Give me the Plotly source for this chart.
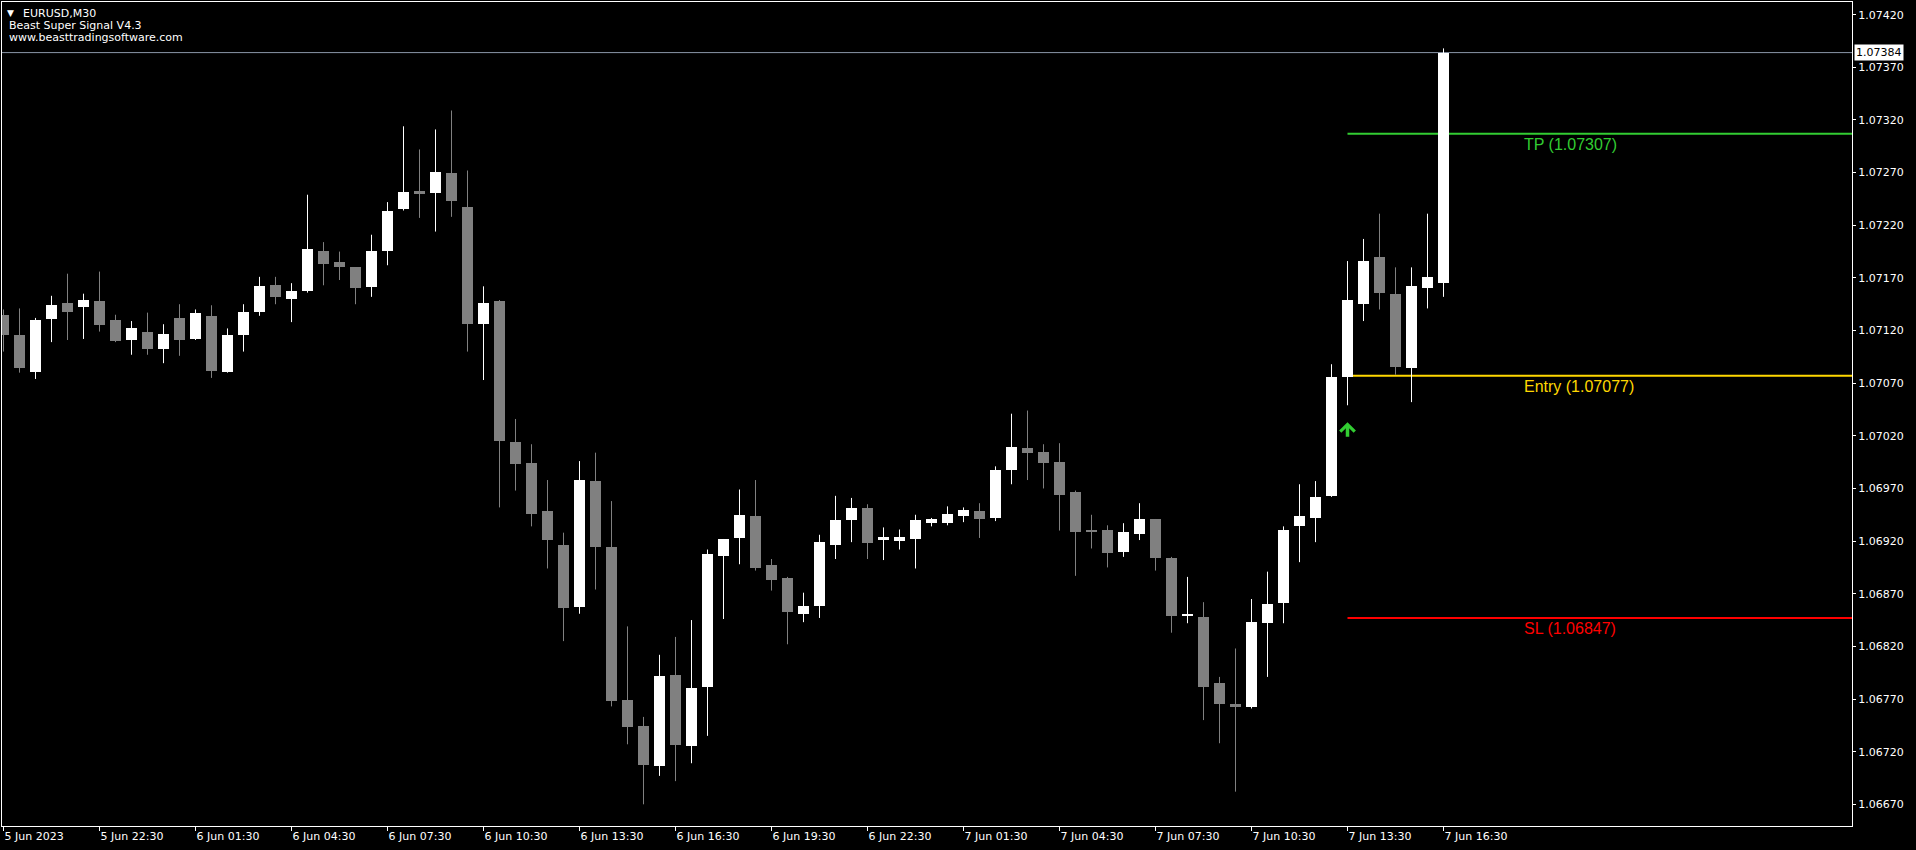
import plotly.graph_objects as go

# ---------------- data (EURUSD M30) ----------------
time_labels = ["5 Jun 2023", "5 Jun 22:30", "6 Jun 01:30", "6 Jun 04:30", "6 Jun 07:30",
               "6 Jun 10:30", "6 Jun 13:30", "6 Jun 16:30", "6 Jun 19:30", "6 Jun 22:30",
               "7 Jun 01:30", "7 Jun 04:30", "7 Jun 07:30", "7 Jun 10:30", "7 Jun 13:30",
               "7 Jun 16:30"]
label_bars = [0, 6, 12, 18, 24, 30, 36, 42, 48, 54, 60, 66, 72, 78, 84, 90]

opens = [1.07135, 1.07116, 1.07081, 1.07131, 1.07146, 1.07142, 1.07148, 1.07130, 1.07111, 1.07119,
         1.07102, 1.07132, 1.07112, 1.07134, 1.07081, 1.07116, 1.07138, 1.07163, 1.07150, 1.07158,
         1.07196, 1.07185, 1.07180, 1.07161, 1.07196, 1.07235, 1.07253, 1.07251, 1.07270, 1.07237,
         1.07126, 1.07148, 1.07014, 1.06994, 1.06949, 1.06916, 1.06857, 1.06977, 1.06914, 1.06769,
         1.06744, 1.06706, 1.06793, 1.06725, 1.06781, 1.06906, 1.06923, 1.06944, 1.06897, 1.06885,
         1.06851, 1.06858, 1.06916, 1.06940, 1.06951, 1.06921, 1.06920, 1.06922, 1.06937, 1.06937,
         1.06944, 1.06949, 1.06942, 1.06988, 1.07008, 1.07005, 1.06995, 1.06967, 1.06931, 1.06931,
         1.06910, 1.06927, 1.06941, 1.06904, 1.06849, 1.06848, 1.06785, 1.06765, 1.06762, 1.06842,
         1.06861, 1.06934, 1.06942, 1.06963, 1.07076, 1.07145, 1.07190, 1.07155, 1.07084, 1.07160,
         1.07165]
highs = [1.07140, 1.07141, 1.07132, 1.07153, 1.07174, 1.07155, 1.07176, 1.07135, 1.07129, 1.07137,
         1.07126, 1.07145, 1.07140, 1.07144, 1.07122, 1.07145, 1.07171, 1.07171, 1.07165, 1.07249,
         1.07204, 1.07195, 1.07180, 1.07211, 1.07242, 1.07314, 1.07292, 1.07311, 1.07329, 1.07272,
         1.07162, 1.07149, 1.07036, 1.07012, 1.06978, 1.06928, 1.06996, 1.07004, 1.06958, 1.06839,
         1.06753, 1.06812, 1.06829, 1.06845, 1.06912, 1.06922, 1.06969, 1.06978, 1.06903, 1.06886,
         1.06871, 1.06926, 1.06963, 1.06961, 1.06955, 1.06933, 1.06931, 1.06945, 1.06942, 1.06953,
         1.06952, 1.06956, 1.06991, 1.07041, 1.07044, 1.07012, 1.07013, 1.06968, 1.06945, 1.06935,
         1.06937, 1.06956, 1.06941, 1.06905, 1.06886, 1.06862, 1.06791, 1.06818, 1.06865, 1.06891,
         1.06934, 1.06974, 1.06977, 1.07088, 1.07186, 1.07207, 1.07231, 1.07180, 1.07180, 1.07231,
         1.07388]
lows = [1.07100, 1.07080, 1.07074, 1.07109, 1.07111, 1.07112, 1.07119, 1.07109, 1.07097, 1.07097,
        1.07089, 1.07096, 1.07111, 1.07075, 1.07080, 1.07100, 1.07134, 1.07145, 1.07128, 1.07156,
        1.07163, 1.07168, 1.07145, 1.07152, 1.07182, 1.07234, 1.07227, 1.07214, 1.07228, 1.07100,
        1.07073, 1.06952, 1.06968, 1.06934, 1.06894, 1.06825, 1.06851, 1.06874, 1.06763, 1.06727,
        1.06670, 1.06697, 1.06692, 1.06709, 1.06735, 1.06846, 1.06898, 1.06892, 1.06873, 1.06822,
        1.06843, 1.06847, 1.06903, 1.06919, 1.06903, 1.06902, 1.06912, 1.06894, 1.06934, 1.06935,
        1.06938, 1.06923, 1.06939, 1.06974, 1.06978, 1.06970, 1.06930, 1.06887, 1.06913, 1.06895,
        1.06905, 1.06921, 1.06892, 1.06833, 1.06842, 1.06750, 1.06728, 1.06682, 1.06761, 1.06791,
        1.06842, 1.06900, 1.06919, 1.06962, 1.07049, 1.07129, 1.07140, 1.07078, 1.07052, 1.07141,
        1.07152]
closes = [1.07116, 1.07084, 1.07130, 1.07144, 1.07138, 1.07149, 1.07125, 1.07110, 1.07122, 1.07102,
          1.07117, 1.07111, 1.07137, 1.07082, 1.07116, 1.07138, 1.07162, 1.07152, 1.07158, 1.07197,
          1.07183, 1.07180, 1.07160, 1.07196, 1.07234, 1.07252, 1.07250, 1.07271, 1.07243, 1.07126,
          1.07146, 1.07015, 1.06993, 1.06946, 1.06921, 1.06856, 1.06978, 1.06914, 1.06768, 1.06743,
          1.06707, 1.06792, 1.06726, 1.06780, 1.06908, 1.06922, 1.06945, 1.06894, 1.06883, 1.06853,
          1.06858, 1.06919, 1.06940, 1.06951, 1.06918, 1.06924, 1.06924, 1.06940, 1.06941, 1.06946,
          1.06950, 1.06941, 1.06988, 1.07009, 1.07004, 1.06994, 1.06964, 1.06929, 1.06929, 1.06909,
          1.06929, 1.06941, 1.06904, 1.06849, 1.06851, 1.06781, 1.06765, 1.06762, 1.06843, 1.06860,
          1.06931, 1.06944, 1.06962, 1.07076, 1.07149, 1.07186, 1.07156, 1.07085, 1.07162, 1.07171,
          1.07384]

y_ticks = [1.06670, 1.06720, 1.06770, 1.06820, 1.06870, 1.06920, 1.06970, 1.07020,
           1.07070, 1.07120, 1.07170, 1.07220, 1.07270, 1.07320, 1.07370, 1.07420]

tp_level = 1.07307
entry_level = 1.07077
sl_level = 1.06847
bid_price = 1.07384
signal_bar = 84
signal_price = 1.07033
level_label_bar = 95

header_lines = ["EURUSD,M30", "Beast Super Signal V4.3", "www.beasttradingsoftware.com"]

# ---------------- styling ----------------
W, H = 1916, 850
ML, MR, MT, MB = 2, 64, 2, 24
BAR_PX = 16
PLOT_W = W - ML - MR
X0 = -1.5 / BAR_PX
X_RANGE = [X0, X0 + PLOT_W / BAR_PX]
Y_RANGE = [1.0664939, 1.0743206]
BULL = "#FFFFFF"
BEAR = "#808080"
FONT = "DejaVu Sans"
ONE_PX = (Y_RANGE[1] - Y_RANGE[0]) / (H - MT - MB)

n = len(opens)
idx = list(range(n))

fig = go.Figure()

# wicks
for colour, is_bull in ((BEAR, False), (BULL, True)):
    wx, wy = [], []
    for i in idx:
        if (closes[i] >= opens[i]) == is_bull:
            wx += [i, i, None]
            wy += [lows[i], highs[i], None]
    fig.add_trace(go.Scatter(x=wx, y=wy, mode="lines", line=dict(color=colour, width=1),
                             hoverinfo="skip", showlegend=False))

# bodies
for colour, is_bull in ((BEAR, False), (BULL, True)):
    bx, bbase, bh = [], [], []
    for i in idx:
        if (closes[i] >= opens[i]) == is_bull:
            bx.append(i)
            bbase.append(min(opens[i], closes[i]))
            bh.append(max(abs(closes[i] - opens[i]), ONE_PX))
    fig.add_trace(go.Bar(x=bx, y=bh, base=bbase, width=11 / BAR_PX,
                         marker=dict(color=colour, line=dict(width=0)),
                         hoverinfo="skip", showlegend=False))

# level lines
levels = [(tp_level, "#32CD32", "TP"), (entry_level, "#FFD700", "Entry"), (sl_level, "#FF0000", "SL")]
for lvl, col, name in levels:
    fig.add_shape(type="line", xref="x", yref="y", x0=signal_bar, x1=X_RANGE[1], y0=lvl, y1=lvl,
                  line=dict(color=col, width=2), layer="below")
    fig.add_annotation(x=level_label_bar, y=lvl, xref="x", yref="y", text=f"{name} ({lvl:.5f})",
                       showarrow=False, xanchor="left", yanchor="top", xshift=-2, yshift=0,
                       font=dict(family="Liberation Sans", size=16, color=col))

# bid line
fig.add_shape(type="line", xref="paper", yref="y", x0=0, x1=1, y0=bid_price, y1=bid_price,
              line=dict(color="#8A97A8", width=1), layer="below")
fig.add_annotation(x=1, y=bid_price, xref="paper", yref="y", text=f"{bid_price:.5f}",
                   showarrow=False, xanchor="left", yanchor="middle", xshift=2,
                   bgcolor="#FFFFFF", borderpad=1,
                   font=dict(family=FONT, size=11, color="#000000"))

# signal arrow (wide chevron head + stem)
fig.add_annotation(x=signal_bar, y=signal_price, xref="x", yref="y", text="",
                   showarrow=True, ax=0, ay=15, arrowhead=4, arrowsize=0.8, arrowwidth=3.5,
                   arrowcolor="#32CD32", standoff=0, borderpad=0,
                   font=dict(size=1, color="#32CD32"))

# header text
fig.add_annotation(x=0, y=1, xref="paper", yref="paper", text="▼", showarrow=False,
                   xanchor="left", yanchor="middle", xshift=3, yshift=-11,
                   font=dict(family=FONT, size=9, color="#FFFFFF"))
header_pos = [(19, -11), (5, -23), (5, -35)]
for txt, (xs, ys) in zip(header_lines, header_pos):
    fig.add_annotation(x=0, y=1, xref="paper", yref="paper", text=txt, showarrow=False,
                       xanchor="left", yanchor="middle", xshift=xs, yshift=ys,
                       font=dict(family=FONT, size=11, color="#FFFFFF"))

fig.update_layout(
    width=W, height=H,
    margin=dict(l=ML, r=MR, t=MT, b=MB, pad=0),
    paper_bgcolor="#000000", plot_bgcolor="#000000",
    barmode="overlay", bargap=0, showlegend=False,
    xaxis=dict(range=X_RANGE, tickmode="array", tickvals=label_bars, ticktext=time_labels,
               ticks="outside", ticklen=4, tickcolor="#FFFFFF", ticklabelposition="outside right",
               showgrid=False, zeroline=False, showline=True, mirror=True,
               linecolor="#FFFFFF", linewidth=1, automargin=False, fixedrange=True,
               tickfont=dict(family=FONT, size=11, color="#FFFFFF")),
    yaxis=dict(range=Y_RANGE, side="right", tickmode="array", tickvals=y_ticks,
               ticktext=[f"{v:.5f}" for v in y_ticks],
               ticks="outside", ticklen=3, tickcolor="#FFFFFF",
               showgrid=False, zeroline=False, showline=True, mirror=True,
               linecolor="#FFFFFF", linewidth=1, automargin=False, fixedrange=True,
               tickfont=dict(family=FONT, size=11, color="#FFFFFF")),
)

fig.write_html("out.html", config={"displayModeBar": False},
               post_script="document.body.style.margin='0';document.body.style.background='#000';")
